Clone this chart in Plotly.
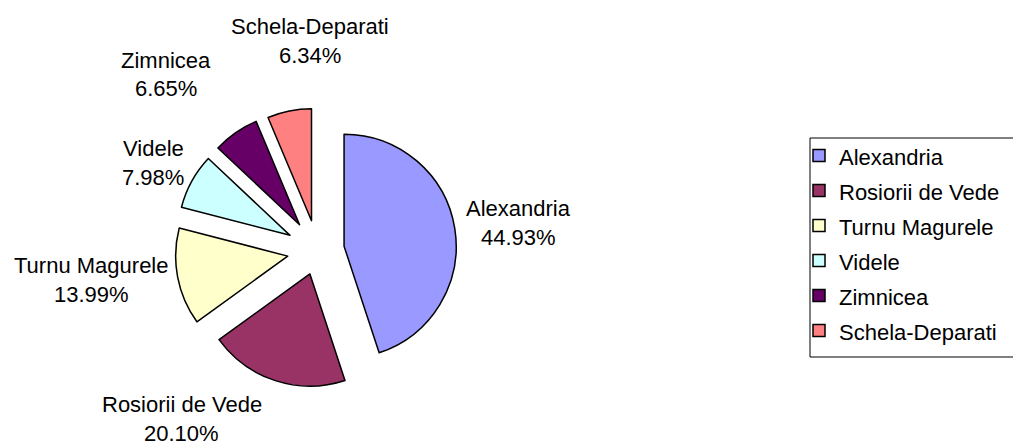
import plotly.graph_objects as go

labels = ["Alexandria", "Rosiorii de Vede", "Turnu Magurele", "Videle", "Zimnicea", "Schela-Deparati"]
values = [44.93, 20.10, 13.99, 7.98, 6.65, 6.34]
colors = ["#9999FF", "#993366", "#FFFFCC", "#CCFFFF", "#660066", "#FF8080"]
pulls = [0.24, 0.22, 0.27, 0.28, 0.28, 0.27]

W, H = 1013, 445
cx, cy, R = 317.5, 250.5, 143.5
FONT = "Liberation Sans, Arial"
TXT = 22

# layout: pixel centres of the data labels (name line, percent line below)
label_xy = [(518, 208), (181.5, 404), (91, 265), (153, 148), (166, 60), (310, 27)]
LINE_GAP = 29

legend_names = ['<span style="font-size:%dpx">%s</span>' % (TXT, s) for s in labels]
total = sum(values)
pct_text = ["%.2f%%" % (v / total * 100) for v in values]

fig = go.Figure(go.Pie(
    labels=legend_names, values=values, text=labels, sort=False,
    direction="clockwise", rotation=0,
    pull=pulls,
    marker=dict(colors=colors, line=dict(color="black", width=1.5)),
    textinfo="none",
    hovertemplate="%{text}: %{percent:.2%}<extra></extra>",
    domain=dict(x=[(cx - R) / W, (cx + R) / W], y=[(H - cy - R) / H, (H - cy + R) / H]),
))

annotations = []
for name, pct, (px, py) in zip(labels, pct_text, label_xy):
    for txt, yy in ((name, py), (pct, py + LINE_GAP)):
        annotations.append(dict(
            text=txt, x=px / W, y=1 - yy / H, xref="paper", yref="paper",
            xanchor="center", yanchor="middle", showarrow=False,
            font=dict(family=FONT, size=TXT, color="black"),
        ))

# legend frame (runs past the right edge of the picture, as in the original)
legend_frame = dict(type="rect", xref="paper", yref="paper",
                    x0=810 / W, x1=1040 / W, y0=1 - 357 / H, y1=1 - 138 / H,
                    line=dict(color="black", width=1), fillcolor="rgba(0,0,0,0)",
                    layer="above")

fig.update_layout(
    width=W, height=H, margin=dict(l=0, r=0, t=0, b=0, autoexpand=False),
    paper_bgcolor="white", plot_bgcolor="white",
    annotations=annotations,
    shapes=[legend_frame],
    legend=dict(x=799 / W, y=1 - 133 / H, xanchor="left", yanchor="top",
                borderwidth=0, bgcolor="rgba(0,0,0,0)",
                font=dict(family=FONT, size=24.6, color="black")),
)
fig.write_html("out.html", config={"displayModeBar": False},
               post_script="document.body.style.margin='0';document.body.style.overflow='hidden';")
